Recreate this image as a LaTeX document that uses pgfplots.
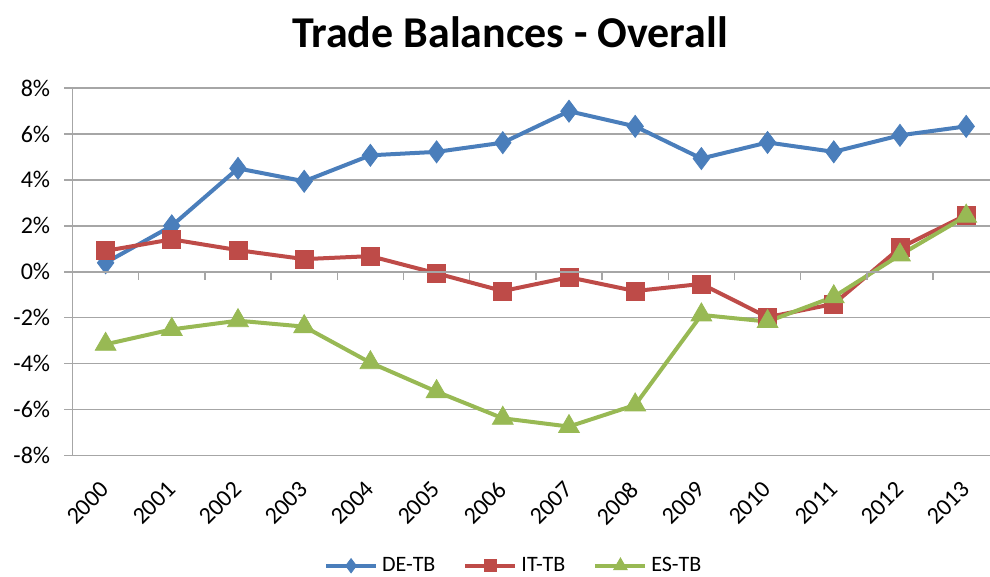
\documentclass[border=0pt]{standalone}
\usepackage{fontspec}
\setmainfont{Carlito}
\usepackage{pgfplots}
\pgfplotsset{compat=1.18}
\definecolor{deblue}{HTML}{4A7EBB}
\definecolor{itred}{HTML}{BE4B48}
\definecolor{esgreen}{HTML}{98B954}
\definecolor{gridgray}{HTML}{A6A6A6}
\begin{document}
\begin{tikzpicture}
\pgfplotsset{
  legend image code/.code={%
    \draw[#1,mark=none] (0pt,0pt) -- (25pt,0pt);
    \draw[#1,mark options={solid,line width=0.4pt,scale=0.65}] plot coordinates {(12.5pt,0pt)};
  }
}
\begin{axis}[
  name=ax,
  at={(0pt,0pt)}, anchor=south west,
  scale only axis,
  width=458.75pt, height=183.75pt,
  xmin=-0.5, xmax=13.36,
  ymin=-8, ymax=8,
  axis x line*=bottom,
  axis y line*=left,
  x axis line style={draw=none},
  y axis line style={draw=gridgray, line width=0.75pt},
  xtick={0,...,13},
  xticklabels={2000,2001,2002,2003,2004,2005,2006,2007,2008,2009,2010,2011,2012,2013},
  x tick style={draw=none},
  xticklabel style={rotate=45, anchor=east, inner sep=0pt, font=\fontsize{12}{14}\selectfont, xshift=-7.9pt, yshift=-7.75pt},
  ytick={-8,-6,...,8},
  yticklabels={-8\%,-6\%,-4\%,-2\%,0\%,2\%,4\%,6\%,8\%},
  y tick style={draw=gridgray, line width=0.75pt},
  tick align=outside,
  major tick length=4pt,
  yticklabel style={anchor=east, inner sep=0pt, font=\fontsize{12}{14}\selectfont, xshift=-7pt},
  ymajorgrids,
  grid style={draw=gridgray, line width=0.75pt},
  legend style={at={(0.482,-0.30)}, anchor=center, draw=none, font=\fontsize{11}{13}\selectfont,
    legend columns=3, /tikz/every even column/.append style={column sep=12pt}},
  every axis plot/.append style={line width=2pt},
]
\addplot[color=deblue, mark=diamond*, mark size=5.5pt, mark options={solid, line width=0.4pt}] coordinates {
(0,0.39) (1,2.0) (2,4.5) (3,3.94) (4,5.07) (5,5.22) (6,5.62) (7,6.99) (8,6.33) (9,4.93) (10,5.63) (11,5.22) (12,5.94) (13,6.33)};
\addlegendentry{DE-TB}
\addplot[color=itred, mark=square*, mark size=4.5pt, mark options={solid, line width=0.4pt}] coordinates {
(0,0.91) (1,1.41) (2,0.94) (3,0.55) (4,0.68) (5,-0.07) (6,-0.84) (7,-0.24) (8,-0.84) (9,-0.53) (10,-1.98) (11,-1.4) (12,1.04) (13,2.47)};
\addlegendentry{IT-TB}
\addplot[color=esgreen, mark=triangle*, mark size=6pt, mark options={solid, line width=0.4pt}] coordinates {
(0,-3.16) (1,-2.51) (2,-2.13) (3,-2.39) (4,-3.96) (5,-5.22) (6,-6.38) (7,-6.74) (8,-5.8) (9,-1.88) (10,-2.17) (11,-1.09) (12,0.73) (13,2.42)};
\addlegendentry{ES-TB}
\end{axis}
\begin{axis}[
  at={(0pt,0pt)}, anchor=south west,
  scale only axis,
  width=458.75pt, height=183.75pt,
  xmin=-0.5, xmax=13.36,
  ymin=-8, ymax=8,
  axis x line=middle,
  axis y line=none,
  axis line style={-, draw=gridgray, line width=0.75pt},
  xtick={0.5,1.5,...,12.5},
  xticklabels={},
  x tick style={draw=gridgray, line width=0.75pt},
  tick align=outside,
  major tick length=4pt,
]
\end{axis}
\node[font=\fontsize{22}{26}\selectfont\bfseries] at (218.75pt,211.75pt) {Trade Balances - Overall};
\pgfresetboundingbox
\path[use as bounding box] (-36.25pt,-60.75pt) rectangle (458.75pt,227.75pt);
\end{tikzpicture}
\end{document}
